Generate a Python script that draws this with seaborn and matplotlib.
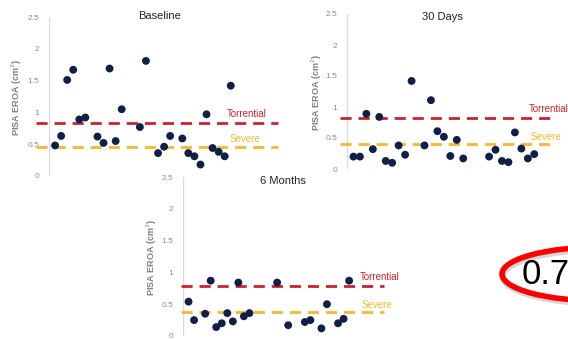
import numpy as np
import matplotlib
matplotlib.use('Agg')
import matplotlib.pyplot as plt
from matplotlib.patches import Ellipse
import seaborn as sns

# PISA EROA (cm2) per patient slot, None = missing
baseline = [0.48, 0.63, 1.51, 1.67, 0.89, 0.92, None, 0.62, 0.52, 1.69,
            0.55, 1.05, None, None, 0.77, 1.81, None, 0.36, 0.46, 0.63,
            None, 0.59, 0.36, 0.31, 0.18, 0.97, 0.44, 0.38, 0.31, 1.42]
days30 = [0.20, 0.20, 0.89, 0.32, 0.84, 0.13, 0.10, 0.38, 0.23, 1.42,
          None, 0.38, 1.11, 0.61, 0.52, 0.21, 0.47, 0.17, None, None,
          None, 0.20, 0.31, 0.13, 0.11, 0.59, 0.33, 0.17, 0.24, None]
months6 = [0.54, 0.25, None, 0.35, 0.87, 0.14, 0.20, 0.36, 0.23, 0.84,
           0.31, 0.36, None, None, None, None, 0.84, None, 0.17, None,
           None, 0.22, 0.25, None, 0.12, 0.50, None, 0.20, 0.27, 0.87]

titles = ['Baseline', '30 Days', '6 Months']
torrential = [0.83, 0.82, 0.78]
severe = [0.46, 0.40, 0.37]

W, H = 568, 339
fig = plt.figure(figsize=(W / 100, H / 100), dpi=100)
sns.set_style('white')
plt.rcParams['font.family'] = ['Liberation Sans', 'DejaVu Sans']

# pixel boxes: left, right, top, bottom, xmax, line start, title pos, ylabel pos, label x
panels = [
    dict(box=(49, 278, 17, 176), xmax=36.8, x0=-3.1, title=(160, 16), ylab=(17, 97), lx=28.4),
    dict(box=(347, 553, 14, 169), xmax=30.9, x0=-2.1, title=(442, 17), ylab=(317, 92), lx=27.1),
    dict(box=(183, 384, 177, 336), xmax=35.3, x0=-1.3, title=(283, 181), ylab=(152, 257), lx=30.9),
]
series = [baseline, days30, months6]

red = '#d0202e'
gold = '#f5b82e'
navy = '#0f1f45'

for vals, p, title, tor, sev in zip(series, panels, titles, torrential, severe):
    l, r, t, b = p['box']
    ax = fig.add_axes([l / W, 1 - b / H, (r - l) / W, (b - t) / H])
    ax.set_facecolor('none')
    y = np.array([np.nan if v is None else v for v in vals])
    x = np.arange(len(y))
    sns.scatterplot(x=x, y=y, ax=ax, color=navy, s=32, edgecolor='none', clip_on=False, zorder=3)
    ax.plot([p['x0'], p['xmax']], [tor, tor], color=red, lw=2, dashes=(4, 2.5), clip_on=False, zorder=2)
    ax.plot([p['x0'], p['xmax']], [sev, sev], color=gold, lw=2, dashes=(4, 2.5), clip_on=False, zorder=2)
    ax.text(p['lx'], tor + 0.14, 'Torrential', color=red, fontsize=7, va='center', ha='left', clip_on=False)
    ax.text(p['lx'] + 0.4, sev + 0.12, 'Severe', color=gold, fontsize=7, va='center', ha='left', clip_on=False)
    ax.axvline(-1, color='#d9d9d9', lw=1, zorder=1)
    ax.set_xlim(-1, p['xmax'])
    ax.set_ylim(0, 2.5)
    ax.set_yticks([0, 0.5, 1, 1.5, 2, 2.5])
    ax.set_yticklabels(['0', '0.5', '1', '1.5', '2', '2.5'])
    ax.tick_params(axis='y', length=0, pad=7, labelsize=6, labelcolor='#8c8c8c')
    ax.set_xticks([])
    for s in ax.spines.values():
        s.set_visible(False)
    ax.set_xlabel('')
    ax.set_ylabel('')
    fig.text(p['title'][0] / W, 1 - p['title'][1] / H, title, fontsize=8, ha='center', va='center', color='#222222')
    fig.text(p['ylab'][0] / W, 1 - p['ylab'][1] / H, 'PISA EROA (cm$^2$)', fontsize=6.5, fontweight='bold',
             rotation=90, ha='center', va='center', color='#7f7f7f')

# slide overlay: circled value at right edge
ov = fig.add_axes([0, 0, 1, 1])
ov.set_xlim(0, W)
ov.set_ylim(H, 0)
ov.axis('off')
ov.add_patch(Ellipse((603, 277), 200, 54, fill=False, ec='#b0b0b0', lw=4, alpha=0.5))
ov.add_patch(Ellipse((601, 274), 198, 54, fill=False, ec='#ff0000', lw=4))
ov.text(522, 275, '0.7', fontsize=25, ha='left', va='center', color='black')

fig.savefig('out.png', dpi=100)
